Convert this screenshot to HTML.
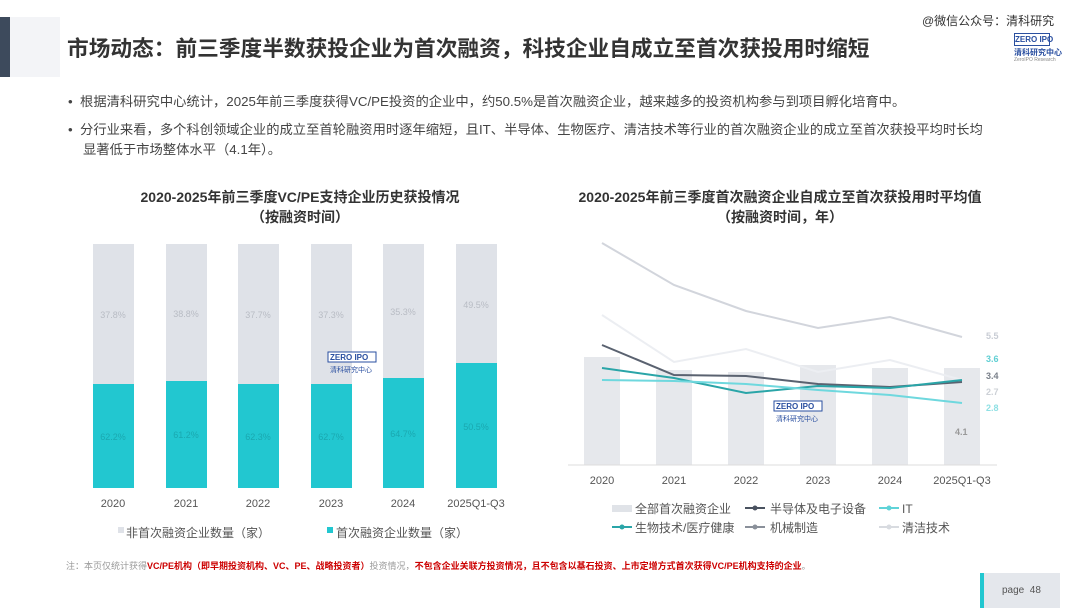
<!DOCTYPE html>
<html><head><meta charset="utf-8"><style>
body{margin:0;width:1080px;height:608px;background:#fff;font-family:"Liberation Sans","Noto Sans CJK SC",sans-serif;position:relative;overflow:hidden;color:#444}
.a{position:absolute;white-space:nowrap}
</style></head><body>
<div class="a" style="left:0;top:17px;width:10px;height:60px;background:#3d4a5c"></div>
<div class="a" style="left:10px;top:17px;width:50px;height:60px;background:#f3f4f7"></div>
<div class="a" style="left:67px;top:32px;font-size:21.7px;font-weight:bold;color:#333">市场动态：前三季度半数获投企业为首次融资，科技企业自成立至首次获投用时缩短</div>
<div class="a" style="left:922px;top:12px;font-size:12px;color:#333">@微信公众号：清科研究</div>
<div class="a" style="left:1014px;top:33px;width:34px;height:11px;border:1px solid #2a4fa0;font-size:8px;font-weight:bold;color:#2a4fa0;line-height:11px;text-align:center">ZERO IPO</div>
<div class="a" style="left:1014px;top:47px;font-size:8px;color:#2a4fa0;font-weight:bold">清科研究中心</div>
<div class="a" style="left:1014px;top:57px;font-size:5px;color:#888">ZeroIPO Research</div>
<div class="a" style="left:68px;top:91px;font-size:13.3px;color:#444">•&nbsp;&nbsp;根据清科研究中心统计，2025年前三季度获得VC/PE投资的企业中，约50.5%是首次融资企业，越来越多的投资机构参与到项目孵化培育中。</div>
<div class="a" style="left:68px;top:119px;font-size:13.3px;color:#444">•&nbsp;&nbsp;分行业来看，多个科创领域企业的成立至首轮融资用时逐年缩短，且IT、半导体、生物医疗、清洁技术等行业的首次融资企业的成立至首次获投平均时长均</div>
<div class="a" style="left:83px;top:139px;font-size:13.3px;color:#444">显著低于市场整体水平（4.1年）。</div>
<div class="a" style="left:120px;top:187px;font-size:14px;font-weight:bold;color:#333;text-align:center;width:360px">2020-2025年前三季度VC/PE支持企业历史获投情况<br>（按融资时间）</div>
<div class="a" style="left:540px;top:187px;font-size:14px;font-weight:bold;color:#333;text-align:center;width:480px">2020-2025年前三季度首次融资企业自成立至首次获投用时平均值<br>（按融资时间，年）</div>
<svg class="a" style="left:0;top:0" width="1080" height="608" font-family="Liberation Sans,Noto Sans CJK SC,sans-serif">
<g fill="#dfe2e8">
<rect x="93" y="244" width="41" height="244"/><rect x="166" y="244" width="41" height="244"/><rect x="238" y="244" width="41" height="244"/><rect x="311" y="244" width="41" height="244"/><rect x="383" y="244" width="41" height="244"/><rect x="456" y="244" width="41" height="244"/></g>
<g fill="#22c7d0">
<rect x="93" y="384" width="41" height="104"/><rect x="166" y="381" width="41" height="107"/><rect x="238" y="384" width="41" height="104"/><rect x="311" y="384" width="41" height="104"/><rect x="383" y="378" width="41" height="110"/><rect x="456" y="363" width="41" height="125"/></g>
<g font-size="9" fill="#b8bcc4" text-anchor="middle"><text x="113" y="318">37.8%</text><text x="186" y="317">38.8%</text><text x="258" y="318">37.7%</text><text x="331" y="318">37.3%</text><text x="403" y="315">35.3%</text><text x="476" y="308">49.5%</text></g>
<g font-size="9" fill="#1aa8b0" text-anchor="middle"><text x="113" y="440">62.2%</text><text x="186" y="438">61.2%</text><text x="258" y="440">62.3%</text><text x="331" y="440">62.7%</text><text x="403" y="437">64.7%</text><text x="476" y="430">50.5%</text></g>
<g font-size="11" fill="#555" text-anchor="middle"><text x="113" y="507">2020</text><text x="186" y="507">2021</text><text x="258" y="507">2022</text><text x="331" y="507">2023</text><text x="403" y="507">2024</text><text x="476" y="507">2025Q1-Q3</text></g>
<rect x="118" y="527" width="6" height="6" fill="#dfe2e8"/><text x="126" y="537" font-size="12" fill="#555">非首次融资企业数量（家）</text>
<rect x="327" y="527" width="6" height="6" fill="#22c7d0"/><text x="336" y="537" font-size="12" fill="#555">首次融资企业数量（家）</text>
<g fill="#e6e8ec">
<rect x="584" y="357" width="36" height="108"/><rect x="656" y="370" width="36" height="95"/><rect x="728" y="372" width="36" height="93"/><rect x="800" y="365" width="36" height="100"/><rect x="872" y="368" width="36" height="97"/><rect x="944" y="368" width="36" height="97"/></g>
<line x1="568" y1="465" x2="997" y2="465" stroke="#ddd"/>
<g fill="none" stroke-width="2">
<polyline points="602,243 674,285 746,311 818,328 890,317 962,337" stroke="#d2d5dc"/>
<polyline points="602,315 674,362 746,349 818,372 890,360 962,380" stroke="#eceef2"/>
<polyline points="602,345 674,375 746,376 818,384 890,387 962,382" stroke="#5a6270"/>
<polyline points="602,368 674,378 746,393 818,386 890,388 962,380" stroke="#2aa5a8"/>
<polyline points="602,380 674,381 746,384 818,390 890,395 962,403" stroke="#6fd8de"/>
</g>
<g font-size="9" font-weight="bold"><text x="986" y="339" fill="#c8ccd4">5.5</text><text x="986" y="362" fill="#5fcfd3">3.6</text><text x="986" y="379" fill="#7a808a">3.4</text><text x="986" y="395" fill="#ccd0d6">2.7</text><text x="986" y="411" fill="#8fe0e4">2.8</text><text x="955" y="435" fill="#999">4.1</text></g>
<g font-size="11" fill="#555" text-anchor="middle"><text x="602" y="484">2020</text><text x="674" y="484">2021</text><text x="746" y="484">2022</text><text x="818" y="484">2023</text><text x="890" y="484">2024</text><text x="962" y="484">2025Q1-Q3</text></g>
<g font-size="12" fill="#555">
<rect x="612" y="505" width="20" height="7" fill="#e0e3e8"/><text x="635" y="513">全部首次融资企业</text>
<line x1="745" y1="508" x2="765" y2="508" stroke="#4a5260" stroke-width="2"/><circle cx="755" cy="508" r="2.5" fill="#4a5260"/><text x="770" y="513">半导体及电子设备</text>
<line x1="879" y1="508" x2="899" y2="508" stroke="#5fd3d8" stroke-width="2"/><circle cx="889" cy="508" r="2.5" fill="#5fd3d8"/><text x="902" y="513">IT</text>
<line x1="612" y1="527" x2="632" y2="527" stroke="#2aa5a8" stroke-width="2"/><circle cx="622" cy="527" r="2.5" fill="#2aa5a8"/><text x="635" y="532">生物技术/医疗健康</text>
<line x1="745" y1="527" x2="765" y2="527" stroke="#8a909a" stroke-width="2"/><circle cx="755" cy="527" r="2.5" fill="#8a909a"/><text x="770" y="532">机械制造</text>
<line x1="879" y1="527" x2="899" y2="527" stroke="#d8dbe0" stroke-width="2"/><circle cx="889" cy="527" r="2.5" fill="#d8dbe0"/><text x="902" y="532">清洁技术</text>
</g>
<g><rect x="328" y="352" width="48" height="10" fill="#fff" stroke="#2a4fa0"/><text x="330" y="360" font-size="8" font-weight="bold" fill="#2a4fa0">ZERO IPO</text><text x="330" y="372" font-size="7" fill="#2a4fa0">清科研究中心</text>
<rect x="774" y="401" width="48" height="10" fill="#fff" stroke="#2a4fa0"/><text x="776" y="409" font-size="8" font-weight="bold" fill="#2a4fa0">ZERO IPO</text><text x="776" y="421" font-size="7" fill="#2a4fa0">清科研究中心</text></g>
</svg>
<div class="a" style="left:66px;top:559px;font-size:9px;color:#999">注：本页仅统计获得<b style="color:#c00">VC/PE机构（即早期投资机构、VC、PE、战略投资者）</b>投资情况，<b style="color:#c00">不包含企业关联方投资情况，且不包含以基石投资、上市定增方式首次获得VC/PE机构支持的企业</b>。</div>
<div class="a" style="left:980px;top:573px;width:4px;height:35px;background:#22c7d0"></div>
<div class="a" style="left:984px;top:573px;width:76px;height:35px;background:#e4e7ec"></div>
<div class="a" style="left:1002px;top:585px;font-size:10px;color:#555">page&nbsp; 48</div>
</body></html>
